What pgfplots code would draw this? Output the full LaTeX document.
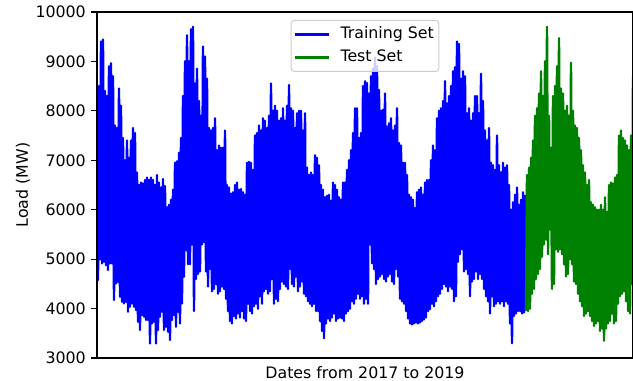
\documentclass[border=0pt]{standalone}
\usepackage{fontspec}
\setmainfont{DejaVu Sans}
\usepackage{pgfplots}
\pgfplotsset{compat=1.18}
\definecolor{mplblue}{RGB}{0,0,255}
\definecolor{mplgreen}{RGB}{0,128,0}
\begin{document}
\fontsize{15.8bp}{19bp}\selectfont
\begin{tikzpicture}
\begin{axis}[
  name=ax,
  scale only axis,
  width=536bp, height=346bp,
  xmin=0, xmax=536, ymin=3000, ymax=10000,
  xtick=\empty,
  ytick={3000,4000,5000,6000,7000,8000,9000,10000},
  scaled y ticks=false,
  ytick pos=left,
  tick align=outside,
  major tick length=6bp,
  tick style={black, line width=1.2bp},
  axis line style={black, line width=1.2bp},
  axis on top,
  /pgf/number format/assume math mode=true,
  /pgf/number format/1000 sep={},
  /pgf/number format/fixed,
  ticklabel style={font=\fontsize{15.8bp}{19bp}\selectfont},
  yticklabel style={inner xsep=0pt, xshift=-5bp},
  ylabel={Load (MW)},
  ylabel style={at={(axis description cs:-0.138,0.5)}, anchor=center, font=\fontsize{15.8bp}{19bp}\selectfont},
  xlabel={Dates from 2017 to 2019},
  xlabel style={at={(axis description cs:0.5,-0.058)}, anchor=base, font=\fontsize{15.8bp}{19bp}\selectfont},
  legend style={at={(axis description cs:0.5,0.977)}, anchor=north,
    draw=black!20, line width=1bp, rounded corners=3bp,
    fill=white, fill opacity=0.8, text opacity=1,
    inner xsep=3bp, inner ysep=4.4bp, row sep=3.8bp, column sep=8bp,
    nodes={inner sep=2bp, text height=11.5bp, text depth=3.7bp},
    font=\fontsize{15.8bp}{19bp}\selectfont},
  legend cell align=left,
  legend image code/.code={\draw[#1] (0bp,0bp) -- (34bp,0bp);},
]
\addplot[color=mplblue, line width=2.4bp, line join=round, mark=none] coordinates {
(0,8300)(1,4580)(2,8500)(3,5000)(4,9400)(5,4915)(6,9440)(7,4950)(8,8400)(9,4880)
(10,8300)(11,4780)(12,8900)(13,4915)(14,8960)(15,4915)(16,8700)(17,4173)(18,7700)(19,4511)
(20,7650)(21,4540)(22,8450)(23,4241)(24,8100)(25,4140)(26,7450)(27,4106)(28,7000)(29,4140)
(30,7400)(31,3937)(32,7050)(33,4039)(34,7400)(35,4106)(36,7650)(37,4039)(38,7550)(39,3971)
(40,6750)(41,3735)(42,6500)(43,3566)(44,6550)(45,3870)(46,6530)(47,3836)(48,6600)(49,3769)
(50,6650)(51,3769)(52,6600)(53,3297)(54,6650)(55,3701)(56,6600)(57,3735)(58,6500)(59,3297)
(60,6700)(61,3566)(62,6550)(63,3836)(64,6450)(65,3937)(66,6620)(67,3566)(68,6480)(69,3634)
(70,6050)(71,3533)(72,6100)(73,3364)(74,6200)(75,3769)(76,6400)(77,3870)(78,6950)(79,3634)
(80,6980)(81,3937)(82,7150)(83,3700)(84,7450)(85,4106)(86,8300)(87,4646)(88,9000)(89,5185)
(90,9530)(91,4900)(92,9000)(93,4900)(94,9650)(95,5300)(96,9700)(97,3950)(98,8550)(99,4600)
(100,8850)(101,4700)(102,8200)(103,4750)(104,7900)(105,5300)(106,9300)(107,5350)(108,9100)(109,4750)
(110,8650)(111,4450)(112,7650)(113,4800)(114,7600)(115,4350)(116,7650)(117,4400)(118,7850)(119,4500)
(120,7200)(121,4300)(122,7300)(123,4350)(124,7250)(125,4450)(126,7250)(127,4400)(128,7600)(129,4200)
(130,6500)(131,3950)(132,6450)(133,3750)(134,6320)(135,3700)(136,6350)(137,3850)(138,6500)(139,3800)
(140,6550)(141,3900)(142,6400)(143,3820)(144,6420)(145,3950)(146,6350)(147,3800)(148,6300)(149,3750)
(150,6950)(151,4100)(152,6970)(153,3950)(154,6950)(155,3900)(156,6800)(157,4050)(158,7500)(159,4100)
(160,7550)(161,4000)(162,7700)(163,4250)(164,7600)(165,4100)(166,7850)(167,4350)(168,7800)(169,4400)
(170,7650)(171,4300)(172,7900)(173,4350)(174,8550)(175,4600)(176,8000)(177,4100)(178,8100)(179,4200)
(180,8000)(181,4150)(182,7800)(183,4400)(184,7850)(185,4550)(186,8050)(187,4500)(188,7800)(189,4450)
(190,8100)(191,4400)(192,8520)(193,4800)(194,8050)(195,4500)(196,8000)(197,4450)(198,7650)(199,4650)
(200,7950)(201,4350)(202,8000)(203,4450)(204,8000)(205,4550)(206,7600)(207,4300)(208,7950)(209,4250)
(210,6850)(211,4150)(212,6700)(213,4100)(214,6750)(215,4050)(216,6700)(217,4100)(218,7100)(219,3950)
(220,7050)(221,3950)(222,6900)(223,3750)(224,6500)(225,3550)(226,6400)(227,3400)(228,6250)(229,3700)
(230,6280)(231,3800)(232,6300)(233,3750)(234,6180)(235,3820)(236,6550)(237,3900)(238,6500)(239,3750)
(240,6400)(241,3800)(242,6250)(243,3820)(244,6200)(245,3800)(246,6550)(247,3750)(248,6550)(249,3900)
(250,6800)(251,3950)(252,7000)(253,4000)(254,7200)(255,4150)(256,7550)(257,4100)(258,8050)(259,4200)
(260,8050)(261,4300)(262,7450)(263,4200)(264,7550)(265,4250)(266,8500)(267,4100)(268,8600)(269,4200)
(270,8560)(271,4100)(272,8350)(273,5300)(274,8700)(275,4920)(276,8860)(277,4800)(278,9080)(279,4500)
(280,8900)(281,4600)(282,8420)(283,4650)(284,8000)(285,4700)(286,8020)(287,4600)(288,8350)(289,4550)
(290,7680)(291,4650)(292,7750)(293,4700)(294,7850)(295,4550)(296,7600)(297,4500)(298,7700)(299,4800)
(300,8050)(301,4650)(302,7350)(303,4200)(304,7300)(305,4150)(306,6950)(307,4100)(308,6950)(309,3950)
(310,6700)(311,3800)(312,6300)(313,3700)(314,6250)(315,3680)(316,6200)(317,3700)(318,6030)(319,3720)
(320,6350)(321,3700)(322,6400)(323,3720)(324,6450)(325,3750)(326,6300)(327,3780)(328,6550)(329,3820)
(330,6600)(331,3950)(332,6600)(333,3990)(334,7000)(335,4100)(336,7300)(337,4050)(338,7200)(339,4150)
(340,7850)(341,4250)(342,8000)(343,4300)(344,8050)(345,4400)(346,8200)(347,4500)(348,8600)(349,4450)
(350,8150)(351,4350)(352,8300)(353,4450)(354,8500)(355,4400)(356,8800)(357,4150)(358,8880)(359,4250)
(360,9400)(361,4950)(362,9350)(363,5100)(364,8650)(365,5200)(366,8800)(367,4750)(368,8700)(369,4800)
(370,7950)(371,4700)(372,8050)(373,4250)(374,7800)(375,4550)(376,7950)(377,4600)(378,8300)(379,4750)
(380,8300)(381,4600)(382,7950)(383,4700)(384,8750)(385,4600)(386,8200)(387,4400)(388,7600)(389,4250)
(390,7400)(391,4150)(392,7650)(393,3900)(394,6950)(395,4250)(396,6900)(397,4050)(398,6800)(399,4100)
(400,7500)(401,4150)(402,6900)(403,4100)(404,6750)(405,4150)(406,6950)(407,4050)(408,6850)(409,4150)
(410,6900)(411,4100)(412,6500)(413,3700)(414,6000)(415,3300)(416,6150)(417,3850)(418,6300)(419,3900)
(420,6450)(421,3950)(422,6100)(423,3950)(424,6200)(425,3900)(426,6350)(427,3920)(428,6300)
};
\addlegendentry{Training Set}
\addplot[color=mplgreen, line width=2.4bp, line join=round, mark=none] coordinates {
(429,3950)(430,6700)(431,3950)(432,6850)(433,4000)(434,7050)(435,4300)(436,7400)(437,4400)(438,7900)(439,4600)
(440,8050)(441,4700)(442,8350)(443,4800)(444,8800)(445,5050)(446,8300)(447,5300)(448,9000)(449,5400)
(450,9700)(451,5100)(452,7900)(453,5600)(454,7250)(455,4400)(456,8300)(457,4500)(458,8500)(459,5200)
(460,8900)(461,5150)(462,9470)(463,5200)(464,8450)(465,5100)(466,8350)(467,4900)(468,8000)(469,4650)
(470,8100)(471,4700)(472,7900)(473,5000)(474,8970)(475,4900)(476,8000)(477,4550)(478,7700)(479,4500)
(480,7650)(481,4300)(482,7450)(483,4150)(484,7200)(485,4050)(486,6900)(487,3850)(488,6750)(489,3900)
(490,6500)(491,3950)(492,6600)(493,3850)(494,6150)(495,3750)(496,6100)(497,3650)(498,6050)(499,3700)
(500,6000)(501,3750)(502,6000)(503,3550)(504,6100)(505,3600)(506,6000)(507,3350)(508,6250)(509,3600)
(510,5950)(511,3700)(512,6500)(513,3750)(514,6550)(515,3900)(516,6530)(517,3700)(518,6650)(519,3750)
(520,6700)(521,4100)(522,7500)(523,4250)(524,7600)(525,4300)(526,7450)(527,4350)(528,7400)(529,4150)
(530,7300)(531,3950)(532,7200)(533,3900)(534,7500)(535,4500)(536,8700)
};
\addlegendentry{Test Set}
\end{axis}
\pgfresetboundingbox
\path[use as bounding box] (ax.south west) ++(-97bp,-23bp) rectangle ++(633bp,381bp);
\end{tikzpicture}
\end{document}
